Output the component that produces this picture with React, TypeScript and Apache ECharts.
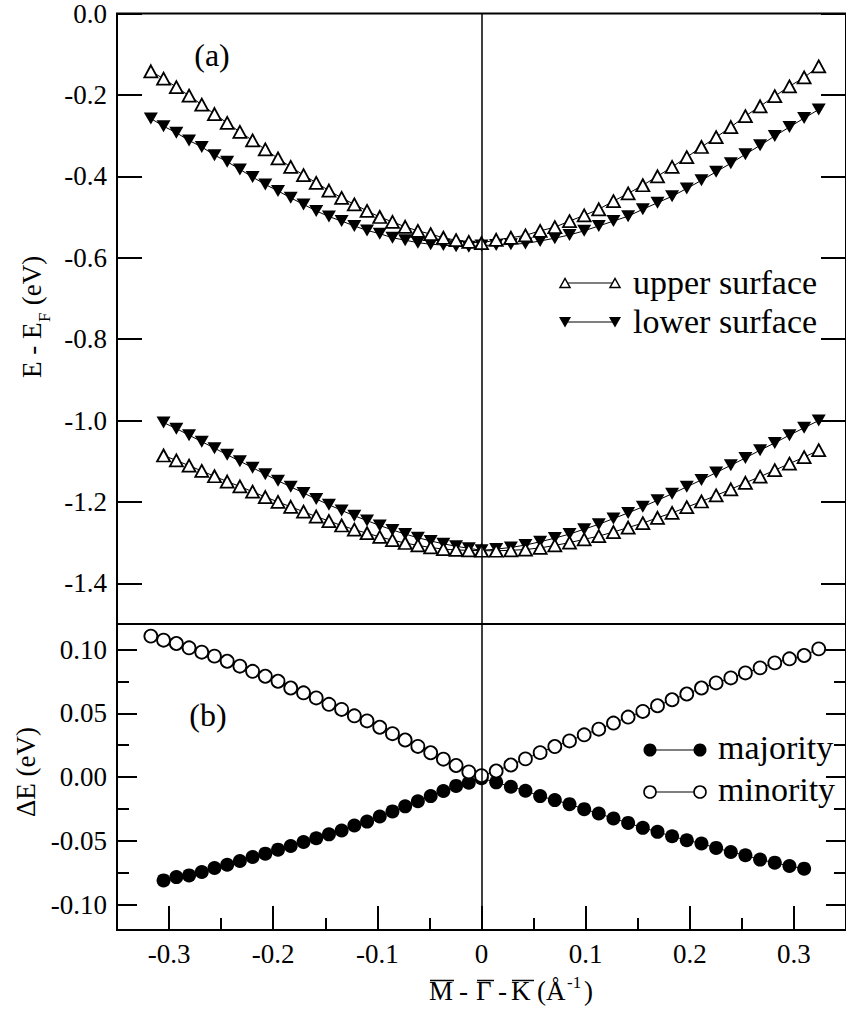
import React, { useEffect, useRef } from "react";
import * as echarts from "echarts";

// Wave-vector sampling along M - Gamma - K (1/Angstrom)
const kPoints = [
  -0.3175, -0.3053, -0.293, -0.2808, -0.2686, -0.2564, -0.2442, -0.232, -0.2198, -0.2076,
  -0.1954, -0.1832, -0.1709, -0.1587, -0.1465, -0.1343, -0.1221, -0.1099, -0.0977, -0.0855,
  -0.0733, -0.0611, -0.0488, -0.0366, -0.0244, -0.0122, 0, 0.0141, 0.0282, 0.0422,
  0.0563, 0.0704, 0.0845, 0.0986, 0.1126, 0.1267, 0.1408, 0.1549, 0.169, 0.183,
  0.1971, 0.2112, 0.2253, 0.2394, 0.2534, 0.2675, 0.2816, 0.2957, 0.3098, 0.3238,
];

// Panel (a): upper band (eV)
const upperSurfaceBand1 = [
  -0.142, -0.16, -0.181, -0.202, -0.224, -0.247, -0.269, -0.291, -0.312, -0.334,
  -0.356, -0.377, -0.397, -0.416, -0.435, -0.453, -0.469, -0.485, -0.5, -0.512,
  -0.524, -0.534, -0.542, -0.551, -0.557, -0.561, -0.564, -0.556, -0.551, -0.545,
  -0.534, -0.525, -0.51, -0.496, -0.481, -0.461, -0.442, -0.422, -0.4, -0.377,
  -0.353, -0.328, -0.304, -0.279, -0.252, -0.228, -0.203, -0.179, -0.157, -0.13,
];
const lowerSurfaceBand1 = [
  -0.258, -0.277, -0.293, -0.312, -0.328, -0.348, -0.364, -0.383, -0.402, -0.42,
  -0.436, -0.453, -0.469, -0.485, -0.499, -0.51, -0.522, -0.533, -0.541, -0.551,
  -0.557, -0.563, -0.567, -0.569, -0.572, -0.573, -0.57, -0.569, -0.567, -0.565,
  -0.559, -0.552, -0.544, -0.534, -0.522, -0.51, -0.498, -0.481, -0.465, -0.449,
  -0.43, -0.41, -0.389, -0.368, -0.346, -0.324, -0.301, -0.279, -0.257, -0.236,
];

// Panel (a): lower band (eV)
const upperSurfaceBand2 = [
  null, -1.086, -1.098, -1.111, -1.124, -1.137, -1.15, -1.162, -1.175, -1.188,
  -1.2, -1.212, -1.224, -1.236, -1.247, -1.258, -1.268, -1.277, -1.286, -1.294,
  -1.301, -1.307, -1.312, -1.316, -1.318, -1.319, -1.32, -1.32, -1.319, -1.317,
  -1.313, -1.307, -1.3, -1.292, -1.284, -1.274, -1.263, -1.252, -1.239, -1.227,
  -1.213, -1.199, -1.184, -1.169, -1.153, -1.138, -1.122, -1.106, -1.09, -1.073,
];
const lowerSurfaceBand2 = [
  null, -1.005, -1.02, -1.036, -1.052, -1.068, -1.084, -1.1, -1.116, -1.132,
  -1.148, -1.163, -1.178, -1.193, -1.207, -1.221, -1.234, -1.246, -1.258, -1.269,
  -1.279, -1.288, -1.296, -1.303, -1.309, -1.314, -1.319, -1.316, -1.312, -1.306,
  -1.298, -1.289, -1.279, -1.267, -1.255, -1.241, -1.227, -1.212, -1.196, -1.18,
  -1.163, -1.146, -1.128, -1.11, -1.092, -1.073, -1.055, -1.036, -1.018, -1.0,
];

// Panel (b): exchange splitting (eV)
const majority = [
  null, -0.0811, -0.0785, -0.0772, -0.0745, -0.0714, -0.0688, -0.0659, -0.0627, -0.0601,
  -0.057, -0.0541, -0.051, -0.048, -0.045, -0.042, -0.038, -0.035, -0.031, -0.027,
  -0.023, -0.019, -0.015, -0.011, -0.007, -0.0045, -0.001, -0.0042, -0.0076, -0.0108,
  -0.015, -0.0181, -0.0213, -0.0252, -0.0286, -0.0325, -0.036, -0.0399, -0.043, -0.0465,
  -0.0496, -0.0522, -0.0556, -0.0588, -0.0614, -0.0648, -0.0672, -0.0698, -0.0719, null,
];
const minority = [
  0.1105, 0.1073, 0.1047, 0.1013, 0.0979, 0.0948, 0.0908, 0.0869, 0.0829, 0.079,
  0.0751, 0.0698, 0.066, 0.062, 0.057, 0.053, 0.048, 0.044, 0.039, 0.034,
  0.029, 0.024, 0.019, 0.014, 0.009, 0.004, 0.001, 0.0047, 0.0094, 0.0142,
  0.0191, 0.0239, 0.0283, 0.0331, 0.0375, 0.0423, 0.047, 0.0514, 0.0559, 0.0606,
  0.0651, 0.0698, 0.0738, 0.0777, 0.0816, 0.0856, 0.0895, 0.0927, 0.0953, 0.1005,
];

// Axis ticks
const energyTicks = [0, -0.2, -0.4, -0.6, -0.8, -1.0, -1.2, -1.4];
const splitTicks = [0.1, 0.05, 0, -0.05, -0.1];
const splitMinorTicks = [0.075, 0.025, -0.025, -0.075];
const kTicks = [-0.3, -0.2, -0.1, 0, 0.1, 0.2, 0.3];
const kMinorTicks = [-0.25, -0.15, -0.05, 0.05, 0.15, 0.25];

const FONT = "Liberation Serif, Times New Roman, serif";

const pairs = (ys: (number | null)[]) =>
  kPoints.map((k, i) => [k, ys[i]]).filter((p) => p[1] !== null);

const filledTriangleSeries = (name: string, ys: (number | null)[]) => ({
  name,
  type: "line",
  xAxisIndex: 0,
  yAxisIndex: 0,
  data: pairs(ys),
  symbol: "triangle",
  symbolRotate: 180,
  symbolSize: [14, 12],
  showAllSymbol: true,
  itemStyle: { color: "#000" },
  lineStyle: { color: "#000", width: 1 },
  z: 3,
});

const openTriangleSeries = (name: string, ys: (number | null)[]) => ({
  name,
  type: "line",
  xAxisIndex: 0,
  yAxisIndex: 0,
  data: pairs(ys),
  symbol: "triangle",
  symbolSize: [13, 12],
  showAllSymbol: true,
  itemStyle: { color: "#fff", borderColor: "#000", borderWidth: 1.8 },
  lineStyle: { color: "#000", width: 1 },
  z: 4,
});

const zeroLine = {
  silent: true,
  symbol: ["none", "none"],
  label: { show: false },
  lineStyle: { color: "#000", width: 1.5, type: "solid" },
  data: [{ xAxis: 0 }],
};

const tickAxis = (
  gridIndex: number,
  position: "left" | "right",
  values: number[],
  length: number,
  min: number,
  max: number,
  labels: boolean,
  digits: number
) => ({
  type: "value",
  gridIndex,
  position,
  min,
  max,
  axisLine: { show: false, onZero: false },
  splitLine: { show: false },
  axisTick: {
    show: true,
    inside: true,
    length,
    customValues: values,
    lineStyle: { color: "#000", width: 2 },
  },
  axisLabel: {
    show: labels,
    customValues: values,
    margin: 10,
    color: "#000",
    fontFamily: FONT,
    fontSize: 27,
    formatter: (v: number) => v.toFixed(digits),
  },
});

const text = (x: number, y: number, s: string, size: number, align = "left") => ({
  type: "text",
  x,
  y,
  style: { text: s, font: `${size}px ${FONT}`, fill: "#000", align, verticalAlign: "middle" },
});

export default function App() {
  const ref = useRef<HTMLDivElement>(null);

  useEffect(() => {
    if (!ref.current) return;
    const chart = echarts.init(ref.current, null, { renderer: "svg" });

    const gridLeft = 117;
    const gridWidth = 735.5;

    const option = {
      animation: false,
      backgroundColor: "#fff",
      grid: [
        { left: gridLeft, top: 12, width: gridWidth, height: 612, show: true, borderColor: "#000", borderWidth: 2, backgroundColor: "transparent" },
        { left: gridLeft, top: 624, width: gridWidth, height: 306, show: true, borderColor: "#000", borderWidth: 2, backgroundColor: "transparent" },
      ],
      xAxis: [
        {
          type: "value",
          gridIndex: 0,
          min: -0.35,
          max: 0.35,
          axisLine: { show: false, onZero: false },
          axisTick: { show: false },
          axisLabel: { show: false },
          splitLine: { show: false },
        },
        {
          type: "value",
          gridIndex: 1,
          position: "bottom",
          min: -0.35,
          max: 0.35,
          axisLine: { show: false, onZero: false },
          splitLine: { show: false },
          axisTick: {
            show: true,
            inside: true,
            length: 24,
            customValues: kTicks,
            lineStyle: { color: "#000", width: 2 },
          },
          axisLabel: {
            customValues: kTicks,
            margin: 10,
            color: "#000",
            fontFamily: FONT,
            fontSize: 27,
            formatter: (v: number) => (v === 0 ? "0" : v.toFixed(1)),
          },
        },
        {
          type: "value",
          gridIndex: 1,
          position: "bottom",
          min: -0.35,
          max: 0.35,
          axisLine: { show: false, onZero: false },
          splitLine: { show: false },
          axisTick: {
            show: true,
            inside: true,
            length: 12,
            customValues: kMinorTicks,
            lineStyle: { color: "#000", width: 2 },
          },
          axisLabel: { show: false, customValues: kMinorTicks },
        },
      ],
      yAxis: [
        tickAxis(0, "left", energyTicks, 25, -1.5, 0, true, 1),
        tickAxis(0, "right", energyTicks, 25, -1.5, 0, false, 1),
        tickAxis(1, "left", splitTicks, 20, -0.12, 0.12, true, 2),
        tickAxis(1, "left", splitMinorTicks, 12, -0.12, 0.12, false, 2),
        tickAxis(1, "right", splitTicks, 20, -0.12, 0.12, false, 2),
        tickAxis(1, "right", splitMinorTicks, 12, -0.12, 0.12, false, 2),
      ],
      series: [
        { ...filledTriangleSeries("lower surface", lowerSurfaceBand1), markLine: zeroLine },
        filledTriangleSeries("lower surface", lowerSurfaceBand2),
        openTriangleSeries("upper surface", upperSurfaceBand1),
        openTriangleSeries("upper surface", upperSurfaceBand2),
        {
          name: "majority",
          type: "line",
          xAxisIndex: 1,
          yAxisIndex: 2,
          data: pairs(majority),
          symbol: "circle",
          symbolSize: 14,
          showAllSymbol: true,
          itemStyle: { color: "#000" },
          lineStyle: { color: "#000", width: 1 },
          markLine: zeroLine,
          z: 3,
        },
        {
          name: "minority",
          type: "line",
          xAxisIndex: 1,
          yAxisIndex: 2,
          data: pairs(minority),
          symbol: "circle",
          symbolSize: 13,
          showAllSymbol: true,
          itemStyle: { color: "#fff", borderColor: "#000", borderWidth: 1.8 },
          lineStyle: { color: "#000", width: 1 },
          z: 4,
        },
      ],
      graphic: [
        // panel tags
        text(212, 55, "(a)", 32, "center"),
        text(208, 715, "(b)", 32, "center"),

        // legend of panel (a)
        { type: "line", shape: { x1: 565, y1: 283, x2: 615, y2: 283 }, style: { stroke: "#000", lineWidth: 1.2 } },
        { type: "polygon", shape: { points: [[560, 287.5], [570, 287.5], [565, 278.5]] }, style: { fill: "#fff", stroke: "#000", lineWidth: 1.5 } },
        { type: "polygon", shape: { points: [[610, 287.5], [620, 287.5], [615, 278.5]] }, style: { fill: "#fff", stroke: "#000", lineWidth: 1.5 } },
        text(633, 282, "upper surface", 34),
        { type: "line", shape: { x1: 565, y1: 322, x2: 615, y2: 322 }, style: { stroke: "#000", lineWidth: 1.2 } },
        { type: "polygon", shape: { points: [[559, 317], [571, 317], [565, 327.5]] }, style: { fill: "#000" } },
        { type: "polygon", shape: { points: [[609, 317], [621, 317], [615, 327.5]] }, style: { fill: "#000" } },
        text(633, 321, "lower surface", 34),

        // legend of panel (b)
        { type: "line", shape: { x1: 650, y1: 750, x2: 700, y2: 750 }, style: { stroke: "#000", lineWidth: 1.2 } },
        { type: "circle", shape: { cx: 650, cy: 750, r: 6.5 }, style: { fill: "#000" } },
        { type: "circle", shape: { cx: 700, cy: 750, r: 6.5 }, style: { fill: "#000" } },
        text(718, 747, "majority", 34),
        { type: "line", shape: { x1: 650, y1: 792, x2: 700, y2: 792 }, style: { stroke: "#000", lineWidth: 1.2 } },
        { type: "circle", shape: { cx: 650, cy: 792, r: 6 }, style: { fill: "#fff", stroke: "#000", lineWidth: 1.6 } },
        { type: "circle", shape: { cx: 700, cy: 792, r: 6 }, style: { fill: "#fff", stroke: "#000", lineWidth: 1.6 } },
        text(718, 789, "minority", 34),

        // y-axis title of panel (a), reading upwards
        {
          type: "group",
          x: 32,
          y: 318,
          rotation: Math.PI / 2,
          children: [
            text(-60, 0, "E - E", 27),
            text(-4, 12, "F", 17),
            text(6, 0, " (eV)", 27),
          ],
        },
        // y-axis title of panel (b)
        {
          type: "group",
          x: 26,
          y: 772,
          rotation: Math.PI / 2,
          children: [text(0, 0, "\u0394E (eV)", 27, "center")],
        },

        // x-axis title: M - Gamma - K (1/Angstrom), with overbars on the symmetry points
        text(429, 991, "M", 27),
        text(459, 991, "-", 27),
        text(476, 991, "\u0393", 27),
        text(498, 991, "-", 27),
        text(511, 991, "K", 27),
        text(537, 991, "(\u00C5", 27),
        text(567, 982, "-1", 17),
        text(584, 991, ")", 27),
        { type: "line", shape: { x1: 430, y1: 980.5, x2: 454, y2: 980.5 }, style: { stroke: "#000", lineWidth: 1.5 } },
        { type: "line", shape: { x1: 477, y1: 980.5, x2: 494, y2: 980.5 }, style: { stroke: "#000", lineWidth: 1.5 } },
        { type: "line", shape: { x1: 512, y1: 980.5, x2: 534, y2: 980.5 }, style: { stroke: "#000", lineWidth: 1.5 } },
      ],
    };

    chart.setOption(option as any);
    return () => chart.dispose();
  }, []);

  return (
    <div
      ref={ref}
      style={{ position: "fixed", left: 0, top: 0, width: 846, height: 1012, background: "#fff" }}
    />
  );
}
